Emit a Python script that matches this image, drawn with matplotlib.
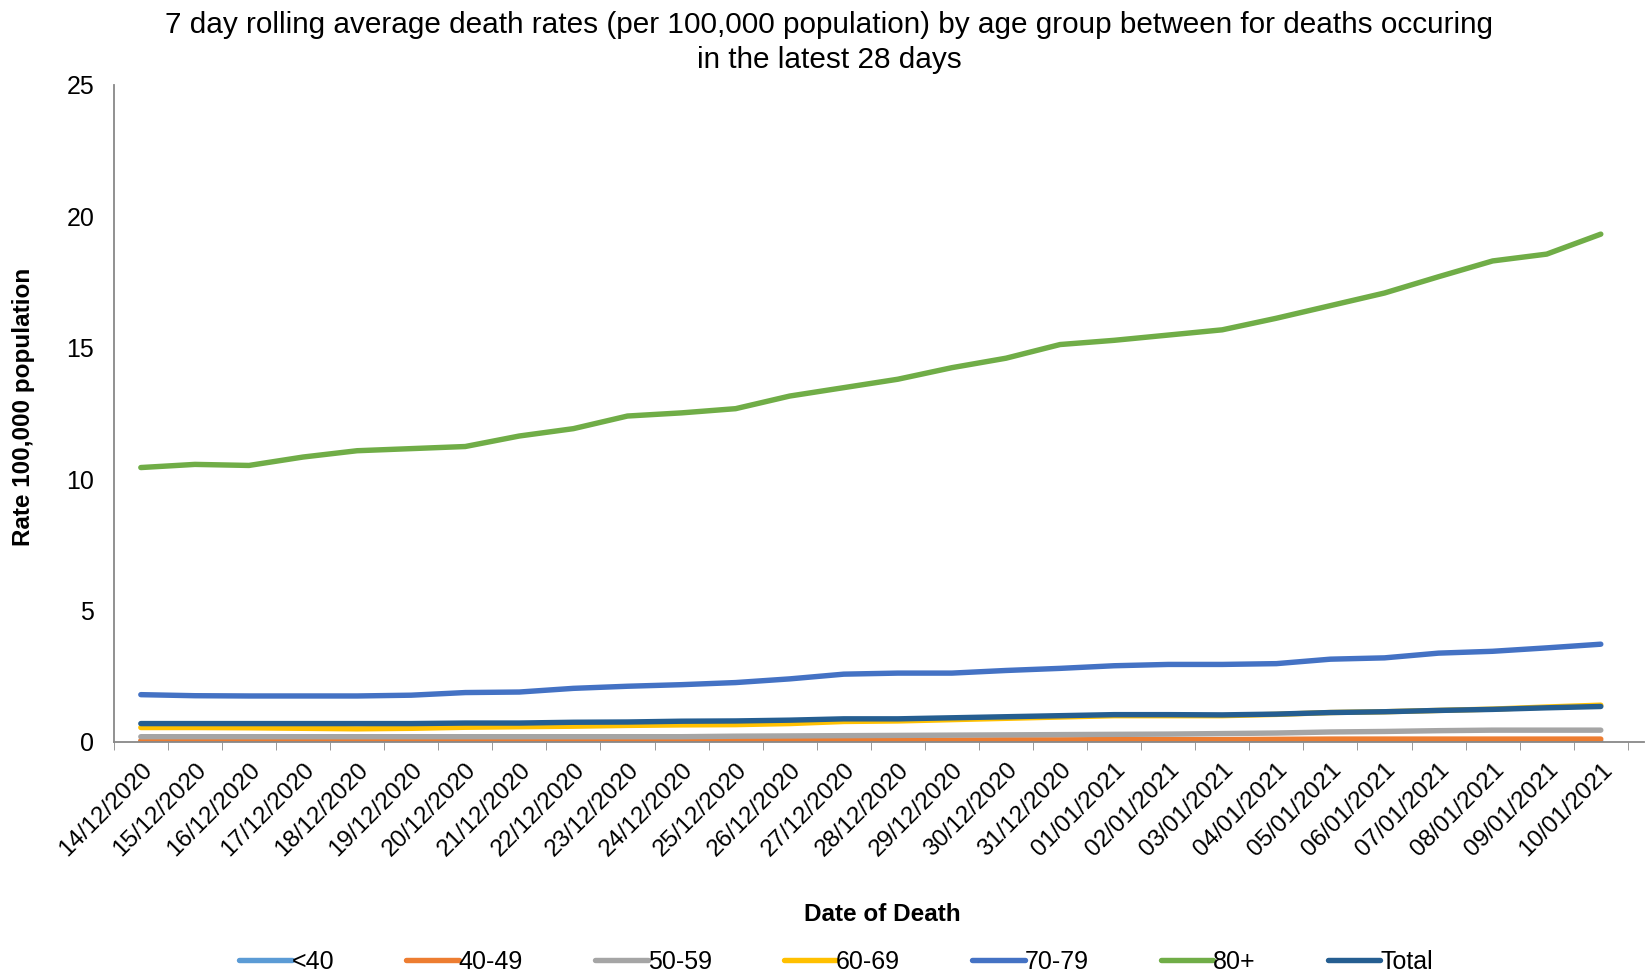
import matplotlib
matplotlib.use("Agg")
import matplotlib.pyplot as plt

plt.rcParams["font.family"] = ["Liberation Sans", "DejaVu Sans"]

dates = ["14/12/2020", "15/12/2020", "16/12/2020", "17/12/2020", "18/12/2020",
         "19/12/2020", "20/12/2020", "21/12/2020", "22/12/2020", "23/12/2020",
         "24/12/2020", "25/12/2020", "26/12/2020", "27/12/2020", "28/12/2020",
         "29/12/2020", "30/12/2020", "31/12/2020", "01/01/2021", "02/01/2021",
         "03/01/2021", "04/01/2021", "05/01/2021", "06/01/2021", "07/01/2021",
         "08/01/2021", "09/01/2021", "10/01/2021"]

under_40 = [0.01, 0.01, 0.01, 0.01, 0.01, 0.01, 0.01, 0.01, 0.01, 0.01,
            0.01, 0.01, 0.01, 0.01, 0.01, 0.01, 0.01, 0.01, 0.01, 0.01,
            0.01, 0.01, 0.02, 0.02, 0.02, 0.02, 0.02, 0.02]
age_40_49 = [0.05, 0.05, 0.05, 0.05, 0.05, 0.05, 0.05, 0.05, 0.05, 0.05,
             0.05, 0.06, 0.06, 0.06, 0.07, 0.07, 0.08, 0.08, 0.09, 0.09,
             0.09, 0.1, 0.11, 0.11, 0.11, 0.11, 0.11, 0.11]
age_50_59 = [0.2, 0.2, 0.2, 0.2, 0.2, 0.2, 0.2, 0.2, 0.2, 0.2,
             0.2, 0.22, 0.23, 0.24, 0.25, 0.26, 0.27, 0.28, 0.29, 0.3,
             0.32, 0.34, 0.38, 0.4, 0.43, 0.45, 0.45, 0.45]
age_60_69 = [0.55, 0.55, 0.54, 0.52, 0.5, 0.52, 0.56, 0.58, 0.6, 0.63,
             0.65, 0.66, 0.7, 0.78, 0.8, 0.85, 0.9, 0.95, 1.0, 1.0,
             1.0, 1.05, 1.12, 1.15, 1.2, 1.25, 1.33, 1.4]
age_70_79 = [1.8, 1.76, 1.75, 1.75, 1.75, 1.78, 1.88, 1.9, 2.04, 2.12,
             2.18, 2.26, 2.4, 2.58, 2.62, 2.62, 2.72, 2.8, 2.9, 2.95,
             2.95, 2.98, 3.15, 3.2, 3.38, 3.45, 3.58, 3.72]
age_80_plus = [10.44, 10.56, 10.52, 10.84, 11.08, 11.16, 11.24, 11.64, 11.92, 12.4,
               12.52, 12.68, 13.16, 13.48, 13.8, 14.24, 14.6, 15.12, 15.28, 15.48,
               15.68, 16.12, 16.6, 17.08, 17.7, 18.3, 18.56, 19.32]
total = [0.7, 0.7, 0.7, 0.7, 0.7, 0.7, 0.72, 0.72, 0.75, 0.76,
         0.79, 0.8, 0.83, 0.88, 0.88, 0.92, 0.96, 1.0, 1.04, 1.04,
         1.03, 1.06, 1.12, 1.15, 1.2, 1.24, 1.3, 1.35]

series = [("<40", under_40, "#5B9BD5"),
          ("40-49", age_40_49, "#ED7D31"),
          ("50-59", age_50_59, "#A5A5A5"),
          ("60-69", age_60_69, "#FFC000"),
          ("70-79", age_70_79, "#4472C4"),
          ("80+", age_80_plus, "#70AD47"),
          ("Total", total, "#255E91")]

fig = plt.figure(figsize=(16.49, 9.75), dpi=100)
ax = fig.add_axes([0.069, 0.239, 0.928, 0.674])

x = list(range(len(dates)))
for label, values, color in series:
    ax.plot(x, values, color=color, lw=3.9, label=label,
            solid_capstyle="round", solid_joinstyle="round")

ax.set_xlim(-0.5, 27.8)
ax.set_ylim(0, 25)
ax.set_yticks([0, 5, 10, 15, 20, 25])
ax.tick_params(axis="y", length=0, pad=14, labelsize=18)

ax.set_xticks(x)
ax.set_xticklabels(dates, rotation=45, ha="right", rotation_mode="anchor",
                   fontsize=17.5)
ax.set_xticks([i + 0.5 for i in range(-1, len(dates))], minor=True)
ax.tick_params(axis="x", which="major", length=0, pad=12)
ax.tick_params(axis="x", which="minor", length=6, color="#888888")

for side in ("top", "right"):
    ax.spines[side].set_visible(False)
for side in ("left", "bottom"):
    ax.spines[side].set_color("#888888")
    ax.spines[side].set_linewidth(1.3)

ax.set_ylabel("Rate 100,000 population", fontsize=17.5, fontweight="bold",
              va="center")
ax.yaxis.set_label_coords(-0.059, 0.51)
ax.set_xlabel("Date of Death", fontsize=17.5, fontweight="bold", va="center")
ax.xaxis.set_label_coords(0.502, -0.263)

fig.text(0.503, 0.956,
         "7 day rolling average death rates (per 100,000 population) by age group between for deaths occuring\nin the latest 28 days",
         ha="center", va="center", fontsize=21.4, linespacing=1.32)

fig.legend(loc="center", bbox_to_anchor=(0.507, 0.0133), ncol=7,
           frameon=False, fontsize=18, handlelength=2.1, handletextpad=0.0,
           columnspacing=2.88)

fig.savefig("out.png", dpi=100)
